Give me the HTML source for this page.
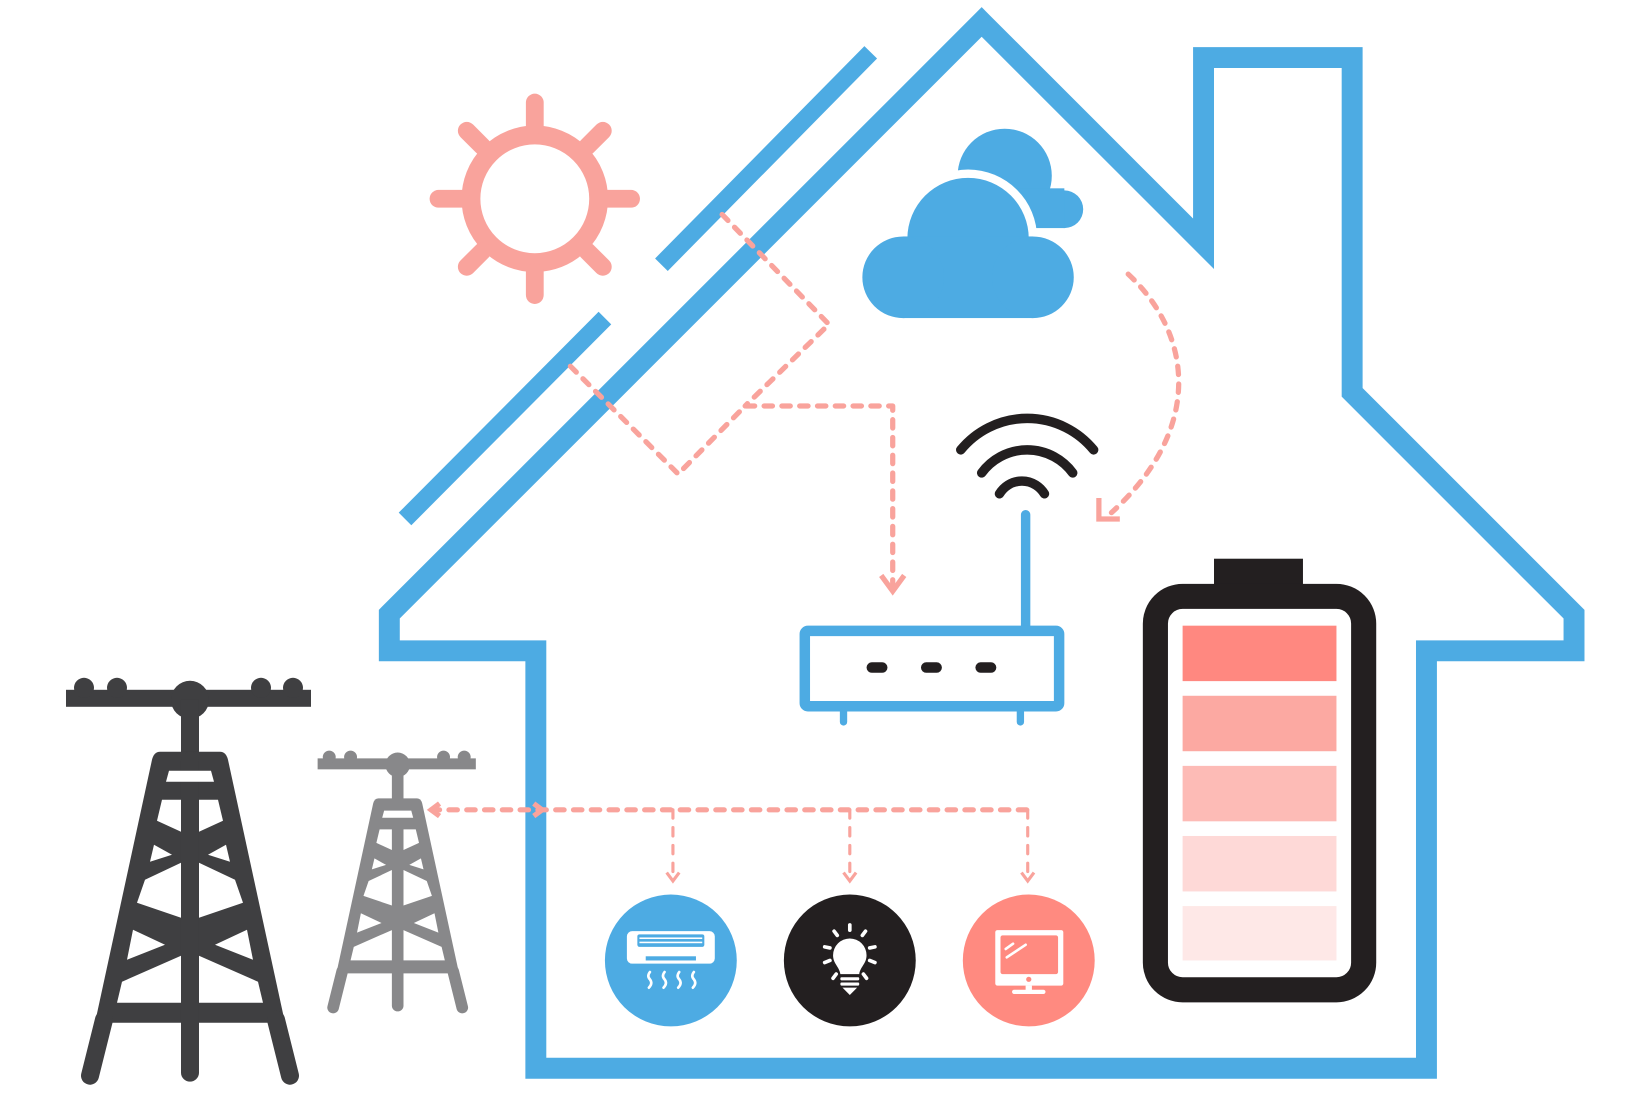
<!DOCTYPE html>
<html><head><meta charset="utf-8"><style>html,body{margin:0;padding:0;background:#fff}svg{display:block}</style></head>
<body>
<svg width="1641" height="1108" viewBox="0 0 1568 1059" preserveAspectRatio="none" xmlns="http://www.w3.org/2000/svg">
<rect width="1568" height="1059" fill="#fff"/>
<path d="M938 21 L1150 233 L1150 55 L1292 55 L1292 375 L1504 587 L1504 622 L1363 622 L1363 1021 L512 1021 L512 622 L372 622 L372 587 Z" fill="none" stroke="#4dabe3" stroke-width="20" stroke-linejoin="miter" stroke-miterlimit="10"/>
<line x1="632" y1="253" x2="832" y2="50" stroke="#4dabe3" stroke-width="17"/>
<line x1="387" y1="496" x2="578" y2="304" stroke="#4dabe3" stroke-width="17"/>
<g stroke="#f9a39c" fill="none">
<circle cx="511" cy="190" r="61" stroke-width="18"/>
<g stroke-width="17" stroke-linecap="round">
<line x1="511" y1="120" x2="511" y2="98"/><line x1="511" y1="260" x2="511" y2="282"/>
<line x1="441" y1="190" x2="419" y2="190"/><line x1="581" y1="190" x2="603" y2="190"/>
<line x1="461" y1="140" x2="446" y2="125"/><line x1="561" y1="140" x2="576" y2="125"/>
<line x1="461" y1="240" x2="446" y2="255"/><line x1="561" y1="240" x2="576" y2="255"/>
</g></g>
<g fill="#4dabe3">
<circle cx="960" cy="168" r="45"/><circle cx="1017" cy="200" r="18"/>
<rect x="960" y="180" width="57" height="38"/>
<circle cx="925" cy="228" r="66" fill="#fff"/>
<circle cx="925" cy="228" r="58"/>
<rect x="863" y="226" width="124" height="78"/>
<circle cx="863" cy="265" r="39"/><circle cx="987" cy="265" r="39"/>
</g>
<g stroke="#231f20" stroke-width="9" fill="none" stroke-linecap="round">
<path d="M918 430 A82 82 0 0 1 1045 430"/>
<path d="M938 452 A54 54 0 0 1 1025 452"/>
<path d="M955 472 A25 25 0 0 1 998 472"/>
</g>
<line x1="980" y1="492" x2="980" y2="600" stroke="#4dabe3" stroke-width="9" stroke-linecap="round"/>
<rect x="769" y="603" width="243" height="72" rx="3" fill="none" stroke="#4dabe3" stroke-width="10"/>
<g stroke="#4dabe3" stroke-width="7" stroke-linecap="round"><line x1="806" y1="680" x2="806" y2="690"/><line x1="975" y1="680" x2="975" y2="690"/></g>
<g fill="#231f20"><rect x="828" y="633" width="20" height="10" rx="5"/><rect x="880" y="633" width="20" height="10" rx="5"/><rect x="932" y="633" width="20" height="10" rx="5"/></g>
<rect x="1160" y="534" width="85" height="30" fill="#231f20"/>
<rect x="1104" y="570" width="199" height="376" rx="26" fill="#fff" stroke="#231f20" stroke-width="24"/>
<rect x="1130" y="598" width="147" height="53" fill="#ff8880"/>
<rect x="1130" y="665" width="147" height="53" fill="#fca9a2"/>
<rect x="1130" y="732" width="147" height="53" fill="#fdbbb6"/>
<rect x="1130" y="799" width="147" height="53" fill="#fed9d7"/>
<rect x="1130" y="866" width="147" height="52" fill="#fee8e7"/>
<g stroke="#f9a39c" stroke-width="5" fill="none" stroke-linecap="round" stroke-linejoin="round">
<path d="M690 205 L792 310 L712 388" stroke-dasharray="8 9"/>
<path d="M545 350 L648 453 L712 388 L853 388 L853 565" stroke-dasharray="8 9"/>
<path d="M1078 262 C1140 320 1150 410 1062 490" stroke-dasharray="8 9"/>
<path d="M412 774 L982 774" stroke-dasharray="8 9"/>
<path d="M643 774 L643 840 M812 774 L812 840 M982 774 L982 840" stroke-dasharray="8 9" stroke-width="3"/>
</g>
<g stroke="#f9a39c" fill="none" stroke-width="5">
<path d="M842 550 L853 565 L864 550"/>
<path d="M1050 476 L1050 496 L1070 496"/>
<path d="M420 768 L412 774 L420 780"/>
<path d="M510 768 L518 774 L510 780"/>
<path d="M637 834 L643 842 L649 834 M806 834 L812 842 L818 834 M976 834 L982 842 L988 834" stroke-width="3"/>
</g>
<circle cx="641" cy="918" r="63" fill="#4dabe3"/>
<circle cx="812" cy="918" r="63" fill="#231f20"/>
<circle cx="983" cy="918" r="63" fill="#ff8a80"/>
<g fill="#fff">
<rect x="599" y="890" width="84" height="31" rx="5"/>
<rect x="609" y="893" width="64" height="12" rx="2" fill="#4dabe3"/>
<rect x="611" y="896" width="60" height="1.5"/><rect x="611" y="900" width="60" height="1.5"/>
<rect x="617" y="914" width="48" height="4" fill="#4dabe3"/>
</g>
<g stroke="#fff" stroke-width="2.5" fill="none" stroke-linecap="round">
<path d="M621 929 q-3 4 0 7 q3 4 -1 8"/><path d="M635 929 q-3 4 0 7 q3 4 -1 8"/><path d="M649 929 q-3 4 0 7 q3 4 -1 8"/><path d="M663 929 q-3 4 0 7 q3 4 -1 8"/>
</g>
<g fill="#fff">
<path d="M812 897 a16 16 0 0 1 16 16 c0 8 -6 11 -7 18 h-18 c-1 -7 -7 -10 -7 -18 a16 16 0 0 1 16 -16z"/>
<rect x="803" y="934" width="18" height="3" rx="1"/><rect x="803" y="939" width="18" height="3" rx="1"/>
<path d="M805 944 h14 l-7 7z"/>
</g>
<g stroke="#fff" stroke-width="3.5" stroke-linecap="round">
<line x1="812" y1="884" x2="812" y2="889"/><line x1="797" y1="890" x2="800" y2="894"/><line x1="827" y1="890" x2="824" y2="894"/>
<line x1="788" y1="905" x2="793" y2="906"/><line x1="836" y1="905" x2="831" y2="906"/>
<line x1="788" y1="920" x2="793" y2="918"/><line x1="836" y1="920" x2="831" y2="918"/>
<line x1="796" y1="935" x2="799" y2="931"/><line x1="828" y1="935" x2="825" y2="931"/>
</g>
<g fill="#fff">
<rect x="951" y="889" width="65" height="53" rx="2"/>
<rect x="956" y="894" width="55" height="37" rx="2" fill="#ff8a80"/>
<circle cx="983" cy="936" r="2.5" fill="#ff8a80"/>
<rect x="980" y="942" width="6" height="5"/><rect x="967" y="946" width="32" height="4" rx="2"/>
</g>
<g stroke="#fff" stroke-width="2.5" stroke-linecap="round"><line x1="961" y1="907" x2="968" y2="902"/><line x1="962" y1="915" x2="980" y2="903"/></g>
<defs>
<g id="tw">
<rect x="66" y="690" width="245" height="17"/>
<circle cx="84" cy="688" r="10"/><circle cx="117" cy="688" r="10"/><circle cx="261" cy="688" r="10"/><circle cx="293" cy="688" r="10"/>
<circle cx="190" cy="700" r="19"/>
<rect x="181" y="700" width="18" height="55"/>
<path d="M160 752 H220 Q226 752 228 760 L285 1023 H95 L152 760 Q154 752 160 752Z"/>
<g stroke-width="18" stroke-linecap="round" stroke="inherit">
</g>
<rect x="181" y="752" width="18" height="330" rx="9"/>
</g>
<g id="cut">
<path d="M169 771 H211 L214 782 H166Z"/>
<path d="M162 800 H181 V832 L157 821Z"/><path d="M199 800 H218 L223 821 L199 832Z"/>
<path d="M154 845 L172 855 L150 862Z"/><path d="M226 845 L208 855 L230 862Z"/>
<path d="M145 880 L181 863 V918 L137 903Z"/><path d="M235 880 L199 863 V918 L243 903Z"/>
<path d="M133 930 L165 945 L127 960Z"/><path d="M247 930 L215 945 L253 960Z"/>
<path d="M122 982 L181 956 V1003 H117Z"/><path d="M258 982 L199 956 V1003 H263Z"/>
</g>
</defs>
<g transform="scale(0.9555)">
<g fill="#3f3f41"><use href="#tw"/></g>
<g stroke="#3f3f41" stroke-width="18" stroke-linecap="round"><line x1="104" y1="1020" x2="90" y2="1076"/><line x1="276" y1="1020" x2="290" y2="1076"/></g>
<g fill="#fff"><use href="#cut"/></g>
</g>
<g transform="translate(380,731) scale(0.617) translate(-190,-700)">
<g fill="#88888a"><use href="#tw"/></g>
<g stroke="#88888a" stroke-width="18" stroke-linecap="round"><line x1="104" y1="1020" x2="90" y2="1076"/><line x1="276" y1="1020" x2="290" y2="1076"/></g>
<g fill="#fff"><use href="#cut"/></g>
</g>
</svg>
</body></html>
